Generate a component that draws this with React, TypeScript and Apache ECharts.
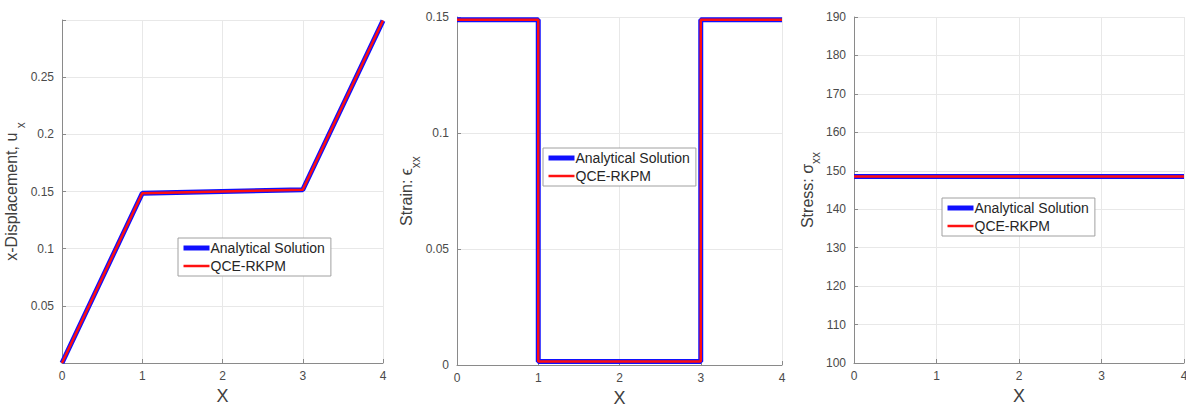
import React, { useEffect, useRef } from "react";
import * as echarts from "echarts";

const xTicks = [0, 1, 2, 3, 4];

// Panel 1: x-displacement
const dispX = [0, 1, 3, 4];
const dispY = [0, 0.1485, 0.1515, 0.2995];

// Panel 2: strain (step)
const strainX = [0, 1, 1, 3, 3, 4];
const strainY = [0.1488, 0.1488, 0.0015, 0.0015, 0.1488, 0.1488];

// Panel 3: stress
const stressX = [0, 4];
const stressY = [148.5, 148.5];

const seriesNames = ["Analytical Solution", "QCE-RKPM"];

const FONT = "Liberation Sans, Arial, Helvetica, sans-serif";
const pair = (xs: number[], ys: number[]) => xs.map((x, i) => [x, ys[i]]);

export default function App() {
  const ref = useRef<HTMLDivElement>(null);
  useEffect(() => {
    document.body.style.margin = "0";
    const chart = echarts.init(ref.current!, null, { renderer: "svg" });

    const grids = [
      { left: 62, top: 20, width: 321, height: 343, outerBoundsMode: "none", containLabel: false },
      { left: 457, top: 17, width: 325, height: 348, outerBoundsMode: "none", containLabel: false },
      { left: 854, top: 17, width: 330, height: 346, outerBoundsMode: "none", containLabel: false },
    ];

    const axisLine = { show: true, lineStyle: { color: "#8a8a8a", width: 1 } };
    const splitLine = { show: true, lineStyle: { color: "#e8e8e8", width: 1 } };
    const axisTick = { show: true, inside: true, length: 4, lineStyle: { color: "#8a8a8a" } };
    const labelStyle = { color: "#4a4a4a", fontSize: 12, fontFamily: FONT };
    const nameRich = {
      m: { fontSize: 16, fontFamily: FONT, color: "#404040", lineHeight: 18 },
      s: { fontSize: 12, fontFamily: FONT, color: "#404040", lineHeight: 12, padding: [18, 0, 0, 0] },
    };

    const xAxes = grids.map((_, i) => ({
      type: "value",
      gridIndex: i,
      min: xTicks[0],
      max: xTicks[xTicks.length - 1],
      interval: 1,
      name: "X",
      nameLocation: "middle",
      nameGap: 22,
      nameTextStyle: { fontSize: 18, fontFamily: FONT, color: "#404040" },
      axisLine,
      axisTick,
      splitLine,
      axisLabel: { ...labelStyle, margin: 7 },
    }));

    const yAxes = [
      {
        type: "value",
        gridIndex: 0,
        min: 0,
        max: 0.3,
        interval: 0.05,
        name: "{m|x-Displacement, u }{s|x}",
        nameLocation: "middle",
        nameGap: 37,
        nameRotate: 90,
        nameTextStyle: { rich: nameRich },
        axisLine,
        axisTick,
        splitLine,
        axisLabel: {
          ...labelStyle,
          formatter: (v: number) => (v <= 0 || v > 0.29 ? "" : String(+v.toFixed(2))),
        },
      },
      {
        type: "value",
        gridIndex: 1,
        min: 0,
        max: 0.15,
        interval: 0.05,
        name: "{m|Strain: ϵ}{s|xx}",
        nameLocation: "middle",
        nameGap: 37,
        nameRotate: 90,
        nameTextStyle: { rich: nameRich },
        axisLine,
        axisTick,
        splitLine,
        axisLabel: { ...labelStyle, formatter: (v: number) => String(+v.toFixed(2)) },
      },
      {
        type: "value",
        gridIndex: 2,
        min: 100,
        max: 190,
        interval: 10,
        name: "{m|Stress: σ}{s|xx}",
        nameLocation: "middle",
        nameGap: 35,
        nameRotate: 90,
        nameTextStyle: { rich: nameRich },
        axisLine,
        axisTick,
        splitLine,
        axisLabel: { ...labelStyle },
      },
    ];

    const datasets = [
      pair(dispX, dispY),
      pair(strainX, strainY),
      pair(stressX, stressY),
    ];

    const series: any[] = [];
    datasets.forEach((d, i) => {
      series.push({
        type: "line",
        name: seriesNames[0],
        xAxisIndex: i,
        yAxisIndex: i,
        data: d,
        symbol: "none",
        lineStyle: { color: "#1010ff", width: 5 },
        itemStyle: { color: "#1010ff" },
        z: 2,
      });
      series.push({
        type: "line",
        name: seriesNames[1],
        xAxisIndex: i,
        yAxisIndex: i,
        data: d,
        symbol: "none",
        lineStyle: { color: "#ff1010", width: 2.5 },
        itemStyle: { color: "#ff1010" },
        z: 3,
      });
    });

    const legendPos = [
      { left: 178, top: 238 },
      { left: 543, top: 148 },
      { left: 942, top: 198 },
    ];
    const legend = legendPos.map((p) => ({
      ...p,
      orient: "vertical",
      data: seriesNames,
      itemWidth: 26,
      itemHeight: 14,
      itemGap: 4,
      padding: [3, 6, 3, 3],
      borderColor: "#a0a0a0",
      borderWidth: 1,
      backgroundColor: "#ffffff",
      selectedMode: false,
      itemStyle: { color: "transparent", borderWidth: 0, opacity: 0 },
      lineStyle: { width: "inherit" },
      textStyle: { fontSize: 14, fontFamily: FONT, color: "#262626", padding: [0, 0, 0, -4] },
    }));

    chart.setOption({
      animation: false,
      backgroundColor: "#ffffff",
      grid: grids,
      xAxis: xAxes,
      yAxis: yAxes,
      legend,
      series,
    });
    return () => chart.dispose();
  }, []);
  return <div ref={ref} style={{ width: 1186, height: 409 }} />;
}
